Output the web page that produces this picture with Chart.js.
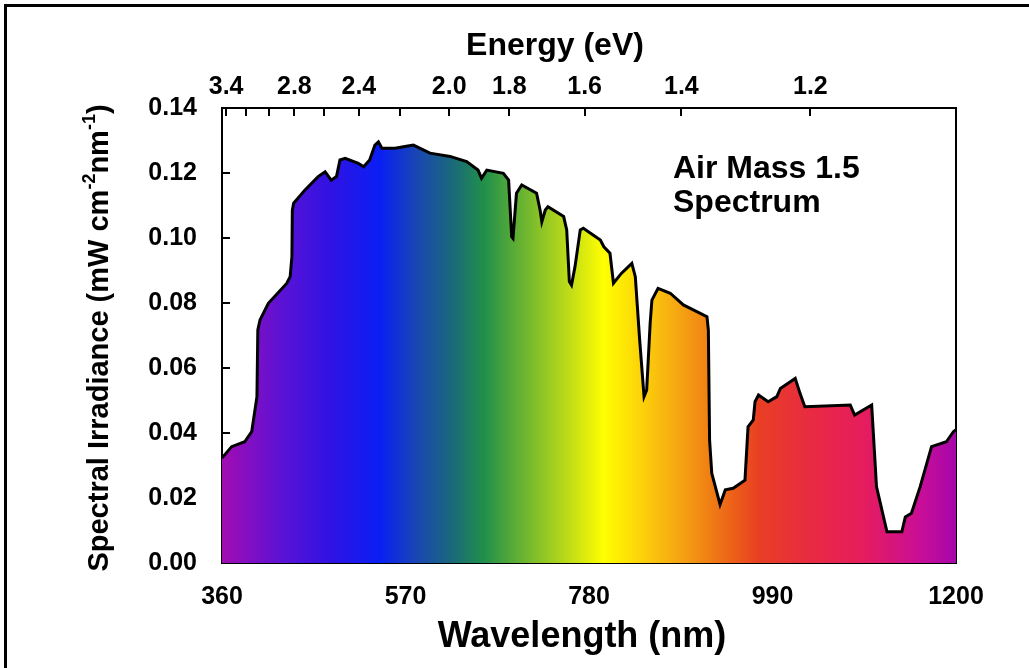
<!DOCTYPE html>
<html>
<head>
<meta charset="utf-8">
<title>Air Mass 1.5 Spectrum</title>
<script src="https://cdn.jsdelivr.net/npm/chart.js@4.4.1/dist/chart.umd.min.js"></script>
<style>
  html, body { margin: 0; padding: 0; background: #fff; }
  #wrap { position: relative; width: 1029px; height: 668px; overflow: hidden; }
  #frame { position: absolute; left: 4px; top: 4px; width: 1040px; height: 680px;
           border-top: 3px solid #000; border-left: 3px solid #000; pointer-events: none; }
</style>
</head>
<body>
<div id="wrap">
  <canvas id="chart" width="1029" height="668"></canvas>
  <div id="frame"></div>
</div>
<script>
// AM1.5 spectral irradiance (nm, mW cm-2 nm-1)
const wavelength = [
    360, 371, 386, 394, 400, 401, 403.5, 413, 434, 438,
    440, 440.5, 442, 455, 470, 478, 485, 491, 495, 501,
    516, 522, 529, 535, 539, 543, 558, 571, 579, 598,
    621, 640, 653, 657, 663, 682, 688, 691.5, 693, 697,
    703, 720, 724, 726, 730, 733, 751, 754.5, 757.5, 760,
    764, 770, 773.5, 793, 797, 804, 808, 817, 829, 833,
    838, 843, 846, 850, 852, 859, 873, 888, 915, 916.6,
    918, 920.5, 930, 936, 945, 958.5, 962, 968, 970, 974,
    985, 995, 999, 1016, 1021.5, 1027, 1079, 1084, 1103.5, 1109,
    1121, 1138, 1142, 1149, 1159, 1172, 1189, 1197, 1200
];
const irradiance = [
    0.0323, 0.0358, 0.0373, 0.0404, 0.0512, 0.0717, 0.0748, 0.0799, 0.0860, 0.0881,
    0.0942, 0.1086, 0.1107, 0.1148, 0.1189, 0.1204, 0.1178, 0.1189, 0.1240, 0.1245,
    0.1230, 0.1219, 0.1240, 0.1286, 0.1296, 0.1276, 0.1276, 0.1282, 0.1286, 0.1261,
    0.1251, 0.1235, 0.1209, 0.1184, 0.1209, 0.1199, 0.1178, 0.1004, 0.0999, 0.1138,
    0.1163, 0.1138, 0.1086, 0.1050, 0.1086, 0.1096, 0.1066, 0.1025, 0.0866, 0.0855,
    0.0912, 0.1025, 0.1030, 0.0994, 0.0973, 0.0953, 0.0861, 0.0891, 0.0922, 0.0881,
    0.0686, 0.0512, 0.0532, 0.0738, 0.0809, 0.0845, 0.0830, 0.0794, 0.0758, 0.0717,
    0.0378, 0.0276, 0.0180, 0.0225, 0.0230, 0.0255, 0.0419, 0.0440, 0.0496, 0.0517,
    0.0496, 0.0512, 0.0537, 0.0568, 0.0522, 0.0481, 0.0486, 0.0455, 0.0486, 0.0235,
    0.0096, 0.0096, 0.0142, 0.0153, 0.0235, 0.0358, 0.0373, 0.0404, 0.0410
];
// short stray trace left of the curve near 450 nm
const strayWavelength = [440, 457];
const strayIrradiance = [0.0942, 0.0961];

const wavelengthTicks = [360, 570, 780, 990, 1200];
const energyTicks = [3.4, 3.2, 3.0, 2.8, 2.6, 2.4, 2.2, 2.0, 1.8, 1.6, 1.4, 1.2];
const energyLabels = [3.4, 2.8, 2.4, 2.0, 1.8, 1.6, 1.4, 1.2];
const yMin = 0, yMax = 0.14, yStep = 0.02;

// colour of the fill along the wavelength axis
const spectrumStops = [
    [360, "#a20cb2"], [430, "#5a12d6"], [480, "#3312e2"], [540, "#0a1ef4"],
    [585, "#1a48b0"], [625, "#1a6a78"], [660, "#20904a"], [720, "#84c028"],
    [765, "#cce214"], [797, "#ffff00"], [840, "#fcd20a"], [880, "#f6a812"],
    [915, "#f08214"], [950, "#ec5a1a"], [975, "#e83e24"], [1030, "#e82c40"],
    [1095, "#e61c5e"], [1160, "#c80e98"], [1200, "#a606aa"]
];

const FONT = '"Liberation Sans", Arial, Helvetica, sans-serif';

function spectrumFill(context) {
    const chart = context.chart;
    const area = chart.chartArea;
    if (!area) return null;
    const xs = chart.scales.x;
    const g = chart.ctx.createLinearGradient(area.left, 0, area.right, 0);
    spectrumStops.forEach(function (s) {
        let t = (xs.getPixelForValue(s[0]) - area.left) / (area.right - area.left);
        g.addColorStop(Math.min(1, Math.max(0, t)), s[1]);
    });
    return g;
}

const textPlugin = {
    id: "texts",
    afterDraw(chart) {
        const ctx = chart.ctx;
        ctx.save();
        ctx.fillStyle = "#000";
        ctx.textBaseline = "alphabetic";

        // axis titles
        ctx.textAlign = "center";
        ctx.font = "bold 36px " + FONT;
        ctx.fillText("Wavelength (nm)", 582, 647);
        ctx.font = "bold 32px " + FONT;
        ctx.fillText("Energy (eV)", 555, 55);

        // annotation
        ctx.textAlign = "left";
        ctx.font = "bold 32px " + FONT;
        ctx.fillText("Air Mass 1.5", 673, 178);
        ctx.fillText("Spectrum", 673, 212);

        // y axis title with superscripts
        const parts = [["Spectral Irradiance (mW cm", false], ["-2", true], ["nm", false], ["-1", true], [")", false]];
        const big = "bold 29px " + FONT, small = "bold 18px " + FONT;
        let total = 0;
        parts.forEach(function (p) {
            ctx.font = p[1] ? small : big;
            total += ctx.measureText(p[0]).width;
        });
        ctx.translate(108, 338);
        ctx.rotate(-Math.PI / 2);
        let x = -total / 2;
        parts.forEach(function (p) {
            ctx.font = p[1] ? small : big;
            ctx.fillText(p[0], x, p[1] ? -13 : 0);
            x += ctx.measureText(p[0]).width;
        });
        ctx.restore();
    }
};

const inwardGrid = { display: true, drawOnChartArea: false, drawTicks: true, tickLength: -8, color: "#000", lineWidth: 2 };
const blackBorder = { display: true, color: "#000", width: 2 };
const tickFont = { family: FONT, size: 25, weight: "bold" };

new Chart(document.getElementById("chart"), {
    type: "line",
    data: {
        datasets: [
            {
                label: "AM1.5",
                data: wavelength.map((w, i) => ({ x: w, y: irradiance[i] })),
                borderColor: "#000",
                borderWidth: 3,
                backgroundColor: spectrumFill,
                fill: "origin",
                pointRadius: 0,
                tension: 0
            },
            {
                label: "stray",
                data: strayWavelength.map((w, i) => ({ x: w, y: strayIrradiance[i] })),
                borderColor: "#000",
                borderWidth: 2,
                fill: false,
                pointRadius: 0
            }
        ]
    },
    options: {
        responsive: false,
        animation: false,
        layout: { padding: 0 },
        plugins: { legend: { display: false }, tooltip: { enabled: false } },
        scales: {
            x: {
                type: "linear", position: "bottom", min: 360, max: 1200,
                afterFit: s => { s.height = 105; },
                afterBuildTicks: s => { s.ticks = wavelengthTicks.map(v => ({ value: v })); },
                ticks: { font: tickFont, color: "#000", padding: 27, maxRotation: 0, autoSkip: false,
                         callback: v => String(v) },
                grid: inwardGrid,
                border: blackBorder
            },
            xTop: {
                type: "linear", position: "top", min: 360, max: 1200,
                afterFit: s => { s.height = 108; },
                afterBuildTicks: s => { s.ticks = energyTicks.map(e => ({ value: 1240 / e })); },
                ticks: {
                    font: tickFont, color: "#000", padding: 14, maxRotation: 0, autoSkip: false,
                    callback: function (v) {
                        const e = Math.round(1240 / v * 10) / 10;
                        return energyLabels.some(l => Math.abs(l - e) < 0.01) ? e.toFixed(1) : "";
                    }
                },
                grid: inwardGrid,
                border: blackBorder
            },
            y: {
                position: "left", min: yMin, max: yMax,
                afterFit: s => { s.width = 222; },
                ticks: { stepSize: yStep, font: tickFont, color: "#000", padding: 33,
                         callback: v => v.toFixed(2) },
                grid: inwardGrid,
                border: blackBorder
            },
            yRight: {
                position: "right", min: yMin, max: yMax,
                afterFit: s => { s.width = 73; },
                ticks: { display: false },
                grid: { display: true, drawOnChartArea: false, drawTicks: false },
                border: blackBorder
            }
        }
    },
    plugins: [textPlugin]
});
</script>
</body>
</html>
